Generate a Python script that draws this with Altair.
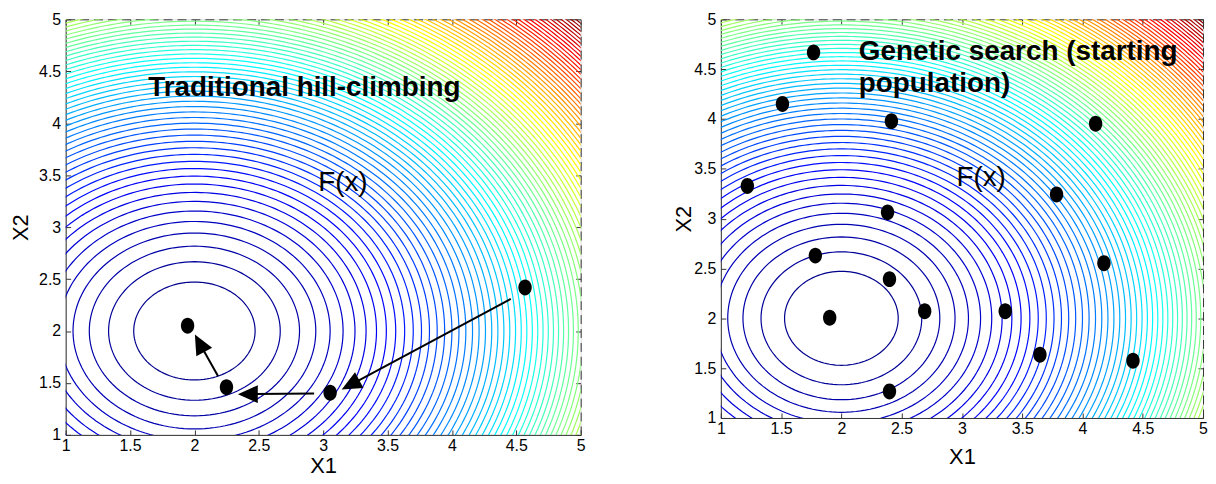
import math
import numpy as np
import pandas as pd
import altair as alt

# ---------------- data ----------------
tick_vals = [1, 1.5, 2, 2.5, 3, 3.5, 4, 4.5, 5]
axis_domain = [1, 5]
f_center = [2.0, 2.0]          # minimum of F(x) = (x1-2)^2 + (x2-2)^2
n_levels = 80
z_max = 18.0
levels = [z_max * k / (n_levels + 1) for k in range(1, n_levels + 1)]
jet_stops = [0, 2.25, 4.5, 6.75, 9, 11.25, 13.5, 15.75, 18]
jet_colors = ["#000080", "#0000ff", "#0080ff", "#00ffff", "#80ff80",
              "#ffff00", "#ff8000", "#ff0000", "#800000"]

# left panel: hill-climbing path
hill_x = [1.947, 2.249, 3.054, 4.568]
hill_y = [2.050, 1.459, 1.405, 2.419]
arrow_x1 = [4.457, 2.93, 2.184]
arrow_y1 = [2.308, 1.399, 1.565]
head_x = [3.212, 2.415, 2.040]
head_y = [1.482, 1.392, 1.882]
head_angle = [242, 270, 332]

# right panel: starting population
ga_x = [1.769, 1.511, 2.415, 4.109, 1.220, 2.383, 3.785, 1.784,
        2.399, 4.178, 1.903, 2.691, 3.359, 3.647, 4.419, 2.399]
ga_y = [4.668, 4.151, 3.978, 3.952, 3.328, 3.063, 3.242, 2.629,
        2.393, 2.552, 2.005, 2.071, 2.071, 1.634, 1.574, 1.265]

left_text = ["Traditional hill-climbing", "F(x)"]
left_text_x = [1.641, 2.961]
left_text_y = [4.26, 3.351]
left_text_w = ["bold", "normal"]
right_text = ["Genetic search (starting", "population)", "F(x)"]
right_text_x = [2.145, 2.145, 2.954]
right_text_y = [4.592, 4.27, 3.332]
right_text_w = ["bold", "bold", "normal"]

# ---------------- contour geometry (circles of F) ----------------
rows = []
for li, lev in enumerate(levels):
    r = math.sqrt(lev)
    n = max(120, int(2 * math.pi * r / 0.04))
    th = np.linspace(0, 2 * np.pi, n, endpoint=False)
    xs = f_center[0] + r * np.cos(th)
    ys = f_center[1] + r * np.sin(th)
    ins = (xs > 0.98) & (xs < 5.02) & (ys > 0.98) & (ys < 5.02)
    segs = []
    if ins.all():
        segs.append(list(range(n)) + [0])
    else:
        k0 = int(np.argmin(ins))
        order = list(np.roll(np.arange(n), -k0))
        m = [bool(ins[p]) for p in order]
        i = 0
        while i < n:
            if m[i]:
                j = i
                while j < n and m[j]:
                    j += 1
                segs.append(order[i - 1:j] + [order[j % n]])
                i = j
            else:
                i += 1
    for si, idx in enumerate(segs):
        for o, p in enumerate(idx):
            rows.append((round(float(xs[p]), 4), round(float(ys[p]), 4),
                         round(lev, 4), f"{li}_{si}", o))
contours = pd.DataFrame(rows, columns=["x1", "x2", "level", "seg", "o"])

FONT = "Liberation Sans"
xscale = alt.Scale(domain=axis_domain, nice=False, zero=False)
yscale = alt.Scale(domain=axis_domain, nice=False, zero=False)


def main_axes(title_x, title_y):
    ax = alt.Axis(values=tick_vals, format="~g", ticks=False, grid=False,
                  domainColor="#333333", labelFont=FONT, labelFontSize=16,
                  labelColor="#000000", labelPadding=3, labelFlush=False,
                  labelOverlap=False, title="X1", titleFont=FONT,
                  titleFontSize=22, titleFontWeight="normal", titleColor="#000000",
                  titleY=title_y, titleBaseline="middle", orient="bottom")
    ay = alt.Axis(values=tick_vals, format="~g", ticks=False, grid=False,
                  domainColor="#333333", labelFont=FONT, labelFontSize=16,
                  labelColor="#000000", labelPadding=5, labelFlush=False,
                  labelOverlap=False, title="X2", titleFont=FONT,
                  titleFontSize=22, titleFontWeight="normal", titleColor="#000000",
                  titleX=title_x, titleBaseline="middle", orient="left")
    return ax, ay


def frame_layer(x_orient, y_orient, offset, dashed):
    frame = pd.DataFrame({"x1": axis_domain, "x2": axis_domain})
    common = dict(values=tick_vals, labels=False, grid=False, title=None,
                  minExtent=0, maxExtent=0)
    if dashed:
        ax = alt.Axis(orient=x_orient, ticks=False, domain=True,
                      domainDash=[9, 5], domainColor="#333333", **common)
        ay = alt.Axis(orient=y_orient, ticks=False, domain=True,
                      domainDash=[9, 5], domainColor="#333333", **common)
    else:
        ax = alt.Axis(orient=x_orient, ticks=True, tickSize=5, tickColor="#333333",
                      domain=False, offset=offset, **common)
        ay = alt.Axis(orient=y_orient, ticks=True, tickSize=5, tickColor="#333333",
                      domain=False, offset=offset, **common)
    return alt.Chart(frame).mark_point(opacity=0).encode(
        x=alt.X("x1:Q", scale=xscale, axis=ax),
        y=alt.Y("x2:Q", scale=yscale, axis=ay),
    )


def contour_layer(title_x, title_y):
    ax, ay = main_axes(title_x, title_y)
    return alt.Chart(contours).mark_line(strokeWidth=1.2, clip=True).encode(
        x=alt.X("x1:Q", scale=xscale, axis=ax),
        y=alt.Y("x2:Q", scale=yscale, axis=ay),
        detail="seg:N",
        order="o:Q",
        color=alt.Color("level:Q", scale=alt.Scale(domain=jet_stops, range=jet_colors,
                                                   interpolate="rgb"), legend=None),
    )


ELLIPSE = "M-0.84,0 A0.84,1 0 1,1 0.84,0 A0.84,1 0 1,1 -0.84,0 Z"
HEAD = "M0,-1 L0.9,1 L-0.9,1 Z"


def points_layer(xs, ys):
    df = pd.DataFrame({"x1": xs, "x2": ys})
    return alt.Chart(df).mark_point(filled=True, shape=ELLIPSE, size=256,
                                    color="#000000", opacity=1).encode(
        x=alt.X("x1:Q", scale=xscale, axis=None),
        y=alt.Y("x2:Q", scale=yscale, axis=None),
    )


def text_layer(texts, xs, ys, weights):
    df = pd.DataFrame({"t": texts, "x1": xs, "x2": ys, "w": weights})
    layers = []
    for w in ["bold", "normal"]:
        layers.append(alt.Chart(df).transform_filter(alt.datum.w == w).mark_text(
            align="left", baseline="alphabetic", font=FONT, fontSize=28,
            fontWeight=w, color="#000000").encode(
            x=alt.X("x1:Q", scale=xscale, axis=None),
            y=alt.Y("x2:Q", scale=yscale, axis=None),
            text="t:N",
        ))
    return layers


def panel(title_x, title_y, w, h, extra):
    layers = [contour_layer(title_x, title_y),
              frame_layer("bottom", "left", -5, False),
              frame_layer("top", "right", -5, False),
              frame_layer("top", "right", 0, True)] + extra
    return alt.layer(*layers).resolve_axis(x="independent", y="independent").properties(
        width=w, height=h)


arrows = pd.DataFrame({"x1": arrow_x1, "x2": arrow_y1, "hx": head_x, "hy": head_y,
                       "ang": head_angle})
arrow_lines = alt.Chart(arrows).mark_rule(color="#000000", strokeWidth=2).encode(
    x=alt.X("x1:Q", scale=xscale, axis=None),
    y=alt.Y("x2:Q", scale=yscale, axis=None),
    x2="hx:Q", y2="hy:Q",
)
arrow_heads = alt.Chart(arrows).mark_point(filled=True, shape=HEAD, size=400,
                                           color="#000000", opacity=1).encode(
    x=alt.X("hx:Q", scale=xscale, axis=None),
    y=alt.Y("hy:Q", scale=yscale, axis=None),
    angle=alt.Angle("ang:Q", scale=None),
)

left = panel(-45, 31, 518, 418,
             [arrow_lines, arrow_heads, points_layer(hill_x, hill_y)]
             + text_layer(left_text, left_text_x, left_text_y, left_text_w))
right = panel(-38, 39, 485, 401,
              [points_layer(ga_x, ga_y)]
              + text_layer(right_text, right_text_x, right_text_y, right_text_w))

chart = alt.hconcat(left, right, spacing=86).properties(
    padding={"left": 1, "top": 1, "right": 0, "bottom": -1}
).configure_view(stroke=None).configure(background="#ffffff")

chart.save("out.html", embed_options={"renderer": "svg", "actions": False})
